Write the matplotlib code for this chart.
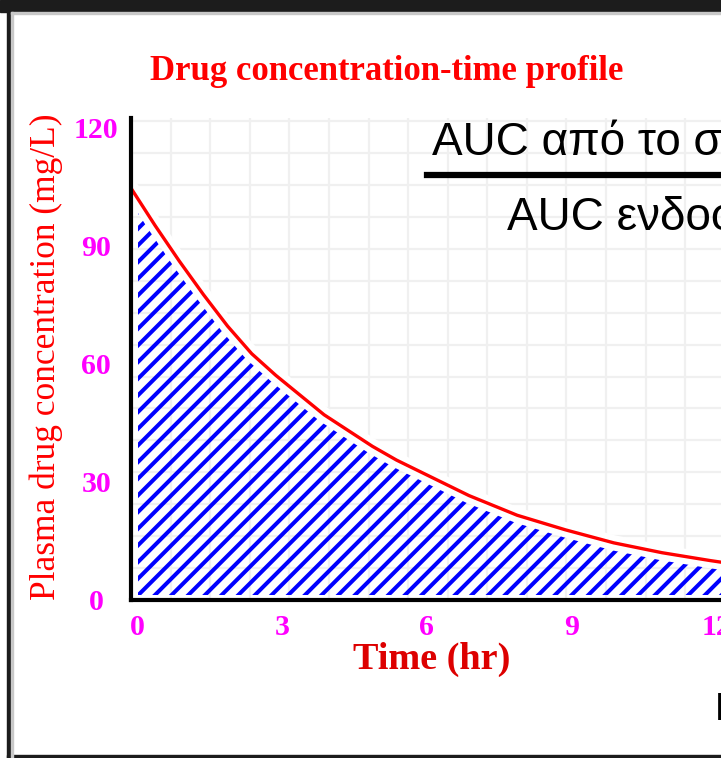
import matplotlib
matplotlib.use('Agg')

import matplotlib.pyplot as plt
import matplotlib.patheffects as pe
import matplotlib.transforms as mtransforms
from matplotlib.patches import Rectangle
from matplotlib.lines import Line2D
import numpy as np

# -------- data --------
time_hr = [0, 0.5, 1, 1.5, 2, 2.5, 3, 3.5, 4, 4.5, 5, 5.5, 6, 7, 8, 9,
           10, 11, 12, 13, 14, 15]
conc_mg_l = [104.5, 95, 86, 77.5, 69.5, 62.5, 57, 52, 47, 43, 39, 35.5,
             32.5, 26.5, 21.5, 17.8, 14.5, 12, 10, 8.2, 6.8, 5.6]

x_ticks = [0, 3, 6, 9, 12]
y_ticks = [0, 30, 60, 90, 120]

title = "Drug concentration-time profile"
x_label = "Time (hr)"
y_label = "Plasma drug concentration (mg/L)"
ratio_top = "AUC από το στόμα"
ratio_bottom = "AUC ενδοφλέβια"
side_text = "F"

# -------- style --------
W, H = 721, 758
plt.rcParams['hatch.color'] = 'blue'
plt.rcParams['hatch.linewidth'] = 2.9
serif = ['Liberation Serif', 'DejaVu Serif']
sans = ['Liberation Sans', 'DejaVu Sans']

fig = plt.figure(figsize=(W / 100, H / 100), dpi=100)
fig.patch.set_facecolor('white')

# axes placed in pixels (left 131, bottom 600, top 118), runs past right edge
ax = fig.add_axes([131 / W, (H - 600) / H, 700 / W, (600 - 118) / H])
ax.set_xlim(0, 14.5)
ax.set_ylim(0, 122.3)

# light background grid
ax.set_xticks(np.arange(0.82, 14.5, 0.82), minor=True)
ax.set_yticks(np.arange(8.1, 122, 8.1), minor=True)
ax.grid(which='minor', color='#f0f0f0', lw=1.6)
ax.set_axisbelow(True)

# hatched area under the curve, kept a little inside the axes
area = ax.fill_between(time_hr, 0, conc_mg_l, facecolor='none',
                       edgecolor='blue', hatch='//', linewidth=0, zorder=1)
clip = Rectangle((0.15, 1.3), 30, 200, transform=ax.transData)
area.set_clip_path(clip)

# red concentration curve with a white halo (gap to the hatch)
ax.plot(time_hr, conc_mg_l, color='red', lw=2.4, zorder=2,
        path_effects=[pe.Stroke(linewidth=11, foreground='white'), pe.Normal()])

# spines
for s in ['top', 'right']:
    ax.spines[s].set_visible(False)
for s in ['left', 'bottom']:
    ax.spines[s].set_linewidth(3)
    ax.spines[s].set_color('black')
    ax.spines[s].set_zorder(3)

# ticks
ax.set_xticks(x_ticks)
ax.set_xticklabels([str(v) for v in x_ticks])
ax.set_yticks(y_ticks)
ax.set_yticklabels([str(v) for v in y_ticks])
ax.tick_params(which='both', length=0)
ax.tick_params(axis='x', pad=10)
ax.tick_params(axis='y', pad=25)
shift = mtransforms.ScaledTranslation(0.06, 0, fig.dpi_scale_trans)
for lab in ax.get_xticklabels():
    lab.set_transform(lab.get_transform() + shift)
for lab in ax.get_xticklabels() + ax.get_yticklabels():
    lab.set_fontfamily(serif)
    lab.set_fontweight('bold')
    lab.set_fontsize(21.5)
    lab.set_color('#ff00ff')
for lab in ax.get_yticklabels():
    lab.set_horizontalalignment('center')

# axis labels
ax.set_xlabel(x_label, family=serif, fontweight='bold', fontsize=27.5,
              color='#dd0000', va='center')
ax.xaxis.set_label_coords((432 - 131) / 700, (600 - 659) / 482)
ax.set_ylabel(y_label, family=serif, fontsize=25.5, color='red', va='center')
ax.yaxis.set_label_coords((46 - 131) / 700, (600 - 357) / 482)

# title
fig.text(387 / W, 1 - 71 / H, title, family=serif, fontweight='bold',
         fontsize=25, color='red', ha='center', va='center')

# overlaid ratio text (AUC oral / AUC iv)
fig.text(432 / W, 1 - 155 / H, ratio_top, family=sans, fontsize=33,
         color='black', ha='left', va='baseline')
fig.add_artist(Line2D([427 / W, 1.2], [1 - 174.5 / H] * 2, lw=4.5,
                      color='black', transform=fig.transFigure))
fig.text(507 / W, 1 - 230 / H, ratio_bottom, family=sans, fontsize=33,
         color='black', ha='left', va='baseline')
fig.text(715 / W, 1 - 720 / H, side_text, family=sans, fontsize=27,
         color='black', ha='left', va='baseline')

# outer frame of the screenshot
dark = '#1c1c1c'
fig.add_artist(Rectangle((0, 1 - 12 / H), 1, 12 / H, color=dark,
                         transform=fig.transFigure))
fig.add_artist(Rectangle((7 / W, 0), 4 / W, 1, color=dark,
                         transform=fig.transFigure))
fig.add_artist(Rectangle((7 / W, 0), 1, 3 / H, color=dark,
                         transform=fig.transFigure))
fig.add_artist(Rectangle((11 / W, 0), 1.5 / W, 1 - 12 / H, color='#c8c8c8',
                         transform=fig.transFigure))
fig.add_artist(Rectangle((11 / W, 1 - 14 / H), 1, 2 / H, color='#c8c8c8',
                         transform=fig.transFigure))

fig.savefig('out.png', dpi=100)
